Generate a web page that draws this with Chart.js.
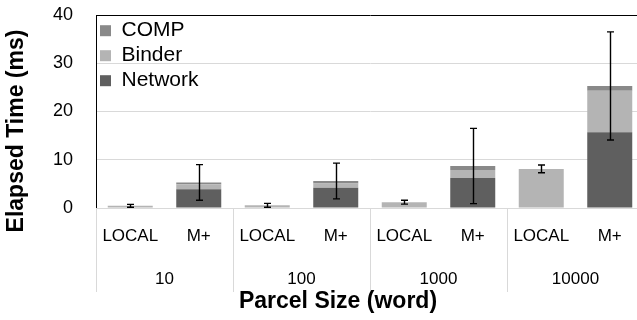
<!DOCTYPE html>
<html>
<head>
<meta charset="utf-8">
<script src="https://cdn.jsdelivr.net/npm/chart.js@4.4.1/dist/chart.umd.min.js"></script>
<style>
  html, body { margin: 0; padding: 0; overflow: hidden; background: #fff; width: 637px; height: 320px; }
  #wrap { width: 648px; height: 320px; }
</style>
</head>
<body>
<div id="wrap"><canvas id="c" width="648" height="320"></canvas></div>
<script>
// Parcel sizes (outer axis row) and execution modes (inner axis row)
const groups = ['10', '100', '1000', '10000'];
const modes = ['LOCAL', 'M+', 'LOCAL', 'M+', 'LOCAL', 'M+', 'LOCAL', 'M+'];

// Elapsed time components in ms, one value per mode/size pair
const network = [0, 3.9, 0, 4.2, 0, 6.2, 0, 15.7];
const binder  = [0.45, 1.0, 0.55, 0.9, 1.2, 1.7, 8.1, 8.6];
const comp    = [0, 0.4, 0, 0.5, 0, 0.8, 0, 1.0];

// Spread of the total elapsed time (+/-), drawn as error bars
const spread  = [0.3, 3.7, 0.4, 3.7, 0.4, 7.8, 0.8, 11.2];

const yMin = 0, yMax = 40, yStep = 10;

const FONT = "'Liberation Sans', Arial, sans-serif";

// Error bars centred on the top of each stack
const errorBars = {
  id: 'errorBars',
  afterDatasetsDraw(chart) {
    const ctx = chart.ctx;
    const y = chart.scales.y;
    const meta = chart.getDatasetMeta(0);
    ctx.save();
    ctx.strokeStyle = '#000';
    ctx.lineWidth = 1.4;
    meta.data.forEach((bar, i) => {
      const total = network[i] + binder[i] + comp[i];
      const top = y.getPixelForValue(total + spread[i]);
      const bot = y.getPixelForValue(total - spread[i]);
      const x = Math.round(bar.x) + 0.5;
      ctx.beginPath();
      ctx.moveTo(x, top); ctx.lineTo(x, bot);
      ctx.moveTo(x - 3.5, top); ctx.lineTo(x + 3.5, top);
      ctx.moveTo(x - 3.5, bot); ctx.lineTo(x + 3.5, bot);
      ctx.stroke();
    });
    ctx.restore();
  }
};

// Vertical dividers between the parcel-size groups below the axis
const groupDividers = {
  id: 'groupDividers',
  afterDraw(chart) {
    const s = chart.scales.x2;
    const ctx = chart.ctx;
    const w = (s.right - s.left) / groups.length;
    ctx.save();
    ctx.strokeStyle = '#d9d9d9';
    ctx.lineWidth = 1;
    for (let i = 0; i <= groups.length; i++) {
      const x = Math.round(s.left + i * w) + 0.5;
      ctx.beginPath();
      ctx.moveTo(x, chart.chartArea.bottom);
      ctx.lineTo(x, s.bottom - 28);
      ctx.stroke();
    }
    ctx.restore();
  }
};

// Axis titles
const axisTitles = {
  id: 'axisTitles',
  afterDraw(chart) {
    const ctx = chart.ctx;
    ctx.save();
    ctx.fillStyle = '#000';
    ctx.font = 'bold 23px ' + FONT;
    ctx.textAlign = 'center';
    ctx.textBaseline = 'middle';
    ctx.fillText('Parcel Size (word)', 338, 302);
    ctx.translate(17, 131);
    ctx.rotate(-Math.PI / 2);
    ctx.fillText('Elapsed Time (ms)', 0, 0);
    ctx.restore();
  }
};

new Chart(document.getElementById('c'), {
  type: 'bar',
  data: {
    labels: modes,
    datasets: [
      { label: 'Network', data: network, backgroundColor: '#5f5f5f', borderWidth: 0 },
      { label: 'Binder',  data: binder,  backgroundColor: '#b4b4b4', borderWidth: 0 },
      { label: 'COMP',    data: comp,    backgroundColor: '#898989', borderWidth: 0 }
    ]
  },
  options: {
    responsive: false,
    devicePixelRatio: 1,
    animation: false,
    events: [],
    layout: { padding: { top: 15, right: 4, left: 0, bottom: 0 } },
    datasets: { bar: { barPercentage: 0.657, categoryPercentage: 1.0 } },
    plugins: {
      tooltip: { enabled: false },
      legend: {
        position: 'chartArea',
        align: 'start',
        fullSize: false,
        reverse: true,
        // empty title only reserves space above the entries
        title: { display: true, text: '', font: { size: 1 }, padding: { top: 15, bottom: 0 } },
        labels: {
          boxWidth: 11,
          boxHeight: 11,
          padding: 4,
          color: '#000',
          font: { family: FONT, size: 21 }
        }
      }
    },
    scales: {
      x: {
        stacked: true,
        offset: true,
        weight: 0,
        grid: { display: false, drawTicks: false },
        border: { display: true, color: '#d9d9d9', width: 1 },
        ticks: { color: '#000', font: { family: FONT, size: 17 }, padding: 18, maxRotation: 0, autoSkip: false },
        afterFit(s) { s.height = 52; }
      },
      x2: {
        type: 'category',
        labels: groups,
        position: 'bottom',
        offset: true,
        weight: 1,
        grid: { display: false, drawTicks: false },
        border: { display: false },
        ticks: { color: '#000', font: { family: FONT, size: 17 }, padding: 9, maxRotation: 0, autoSkip: false },
        afterFit(s) { s.height = 60; }
      },
      y: {
        stacked: true,
        min: yMin,
        max: yMax,
        ticks: { stepSize: yStep, color: '#000', font: { family: FONT, size: 18 }, padding: 23 },
        grid: {
          drawTicks: false,
          lineWidth: 1,
          color: (c) => (c.tick && c.tick.value === yMax ? '#000' : '#d9d9d9')
        },
        border: { display: true, color: '#000', width: 1 },
        afterFit(s) { s.width = 96; s.paddingTop = 0; s.paddingBottom = 0; }
      }
    }
  },
  plugins: [errorBars, groupDividers, axisTitles]
});
</script>
</body>
</html>
